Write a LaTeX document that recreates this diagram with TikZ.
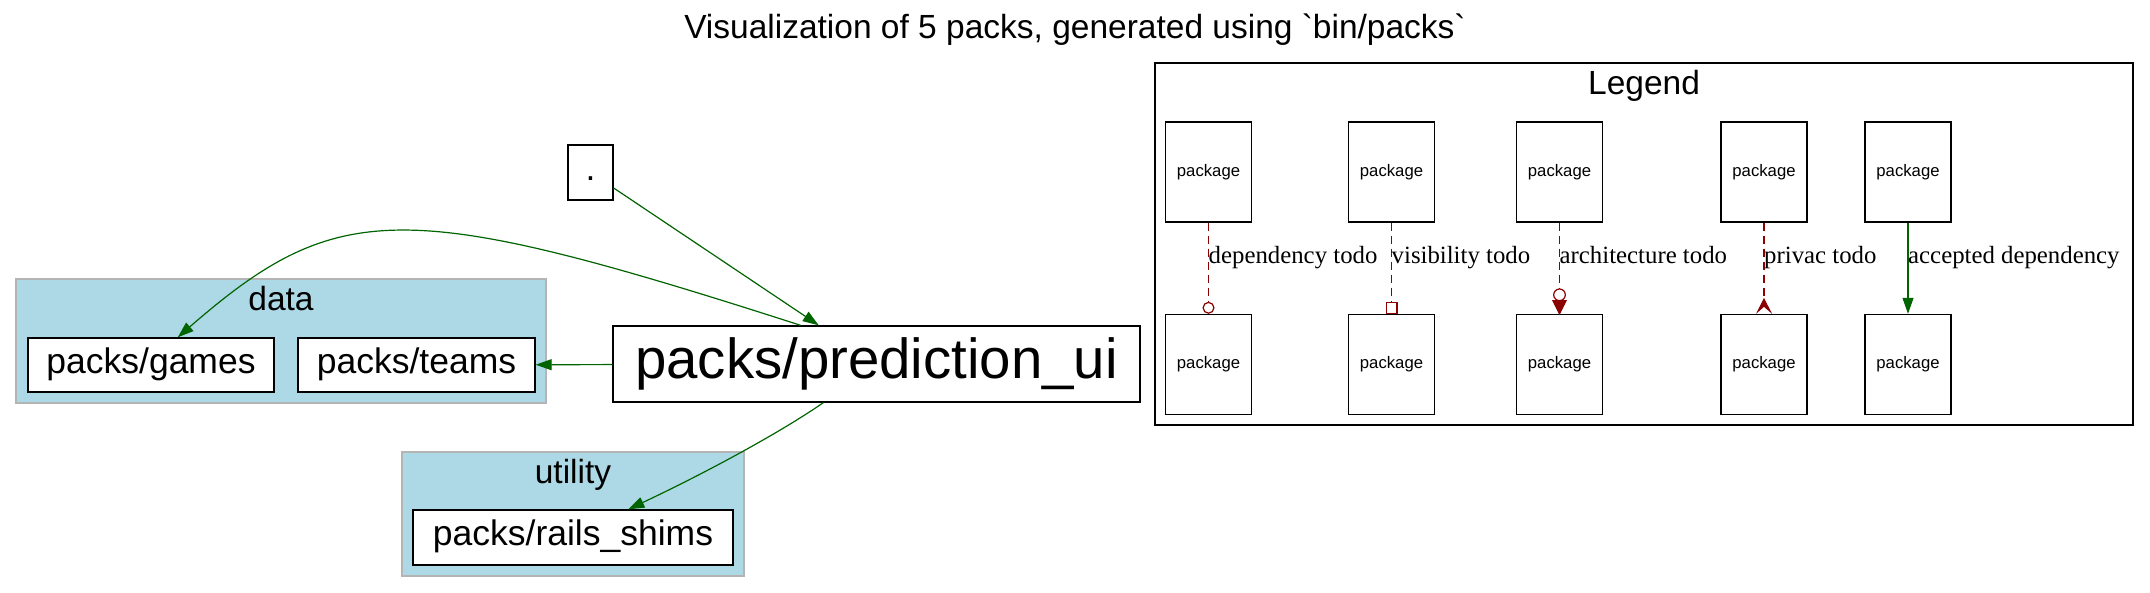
\documentclass[tikz,border=0pt]{standalone}
\usepackage{fontspec}
\setmainfont{Liberation Sans}[Ligatures=TeXOff]
\newfontfamily\lblfont{Liberation Serif}
\usetikzlibrary{arrows.meta,calc}
\definecolor{dgreen}{HTML}{006400}
\definecolor{dred}{HTML}{8B0000}
\definecolor{lblue}{HTML}{ADD8E6}
\definecolor{cgray}{HTML}{B4B4B4}
\begin{document}
\begin{tikzpicture}[x=1pt,y=-1pt,
  pk/.style={draw=black, line width=1.4pt, fill=white, inner sep=0pt,
    font=\fontsize{35.5}{40}\selectfont, text height=25.5pt, text depth=9pt},
  pkbig/.style={draw=black, line width=1.4pt, fill=white, inner sep=0pt,
    font=\fontsize{56.4}{64}\selectfont, text height=40.5pt, text depth=12.5pt},
  pkg/.style={draw=black, line width=1.4pt, fill=white, inner sep=0pt,
    minimum width=86pt, minimum height=100pt,
    font=\fontsize{16.7}{20}\selectfont, text height=12pt, text depth=3.5pt},
  cluster/.style={draw=cgray, line width=1.4pt, fill=lblue, inner sep=0pt},
  clabel/.style={anchor=base, inner sep=0pt, font=\fontsize{33.5}{40}\selectfont},
  dep/.style={draw=dgreen, line width=1.2pt, -{Triangle[length=16pt,width=11pt]}},
  todo/.style={draw=dred, line width=1.2pt, dash pattern=on 8pt off 5pt},
  tiptodo/.style={draw=dred, line width=1.2pt, solid},
  elabel/.style={anchor=base west, inner sep=0pt, font=\lblfont\fontsize{24.8}{30}\selectfont}
]
\useasboundingbox (0,0) rectangle (2150,592);
\fill[white] (0,0) rectangle (2150,592);

% title
\node[clabel] (title) at (1075,38) {Visualization of 5 packs, generated using `bin/packs`};

% clusters
\node[cluster, minimum width=530pt, minimum height=124pt] (datacl) at (281,341) {};
\node[clabel] (datalbl) at (281,310) {data};
\node[cluster, minimum width=342pt, minimum height=124pt] (utilcl) at (573,514) {};
\node[clabel] (utillbl) at (573,483) {utility};

% package nodes
\node[pk, minimum width=246pt, minimum height=54pt] (games) at (151,365) {packs/games};
\node[pk, minimum width=237pt, minimum height=54pt] (teams) at (416.5,365) {packs/teams};
\node[pkbig, minimum width=527pt, minimum height=76pt] (pui) at (876.5,364) {packs/prediction\_ui};
\node[pk, minimum width=45pt, minimum height=55pt] (dot) at (590.5,172.5) {.};
\node[pk, minimum width=320pt, minimum height=55pt] (rails) at (573,537.5) {packs/rails\_shims};

% edges
\draw[dep] (dot) -- (pui);
\draw[dep] (pui) -- (teams);
\draw[dep] (pui.153) .. controls (405,198) and (338,198) .. (games.46);
\draw[dep] (pui.216) .. controls (790,426) and (720,466) .. (rails.27);

% legend
\node[draw=black, line width=1.3pt, inner sep=0pt, minimum width=978pt, minimum height=362pt] (legend) at (1644,244) {};
\node[clabel] (legendlbl) at (1644,94) {Legend};

\node[pkg] (a1) at (1208.5,172) {package};
\node[pkg] (b1) at (1208.5,364.5) {package};
\node[pkg] (a2) at (1391.5,172) {package};
\node[pkg] (b2) at (1391.5,364.5) {package};
\node[pkg] (a3) at (1559.5,172) {package};
\node[pkg] (b3) at (1559.5,364.5) {package};
\node[pkg] (a4) at (1764,172) {package};
\node[pkg] (b4) at (1764,364.5) {package};
\node[pkg] (a5) at (1908,172) {package};
\node[pkg] (b5) at (1908,364.5) {package};

\draw[todo, -{Circle[open,length=12pt,width=12pt]}] (a1) -- (b1);
\draw[todo, -{Square[open,length=12pt,width=12pt]}] (a2) -- (b2);
% architecture: filled triangle at the box, open circle above it
\draw[todo, shorten >=25pt] (a3) -- (b3);
\filldraw[tiptodo, fill=dred] (b3.north) -- ($(b3.north)+(-6.5,-13)$) -- ($(b3.north)+(6.5,-13)$) -- cycle;
\draw[tiptodo, fill=white] ($(b3.north)+(0,-19)$) circle[radius=5.8pt];
\draw[todo, -{Stealth[reversed,length=16pt,width=16pt,inset=7pt]}] (a4) -- (b4);
\draw[dep] (a5) -- (b5);

\node[elabel] (l1) at ($(a1.south)+(0,41)$) {dependency todo};
\node[elabel] (l2) at ($(a2.south)+(0,41)$) {visibility todo};
\node[elabel] (l3) at ($(a3.south)+(0,41)$) {architecture todo};
\node[elabel] (l4) at ($(a4.south)+(0,41)$) {privac todo};
\node[elabel] (l5) at ($(a5.south)+(0,41)$) {accepted dependency};
\end{tikzpicture}
\end{document}
